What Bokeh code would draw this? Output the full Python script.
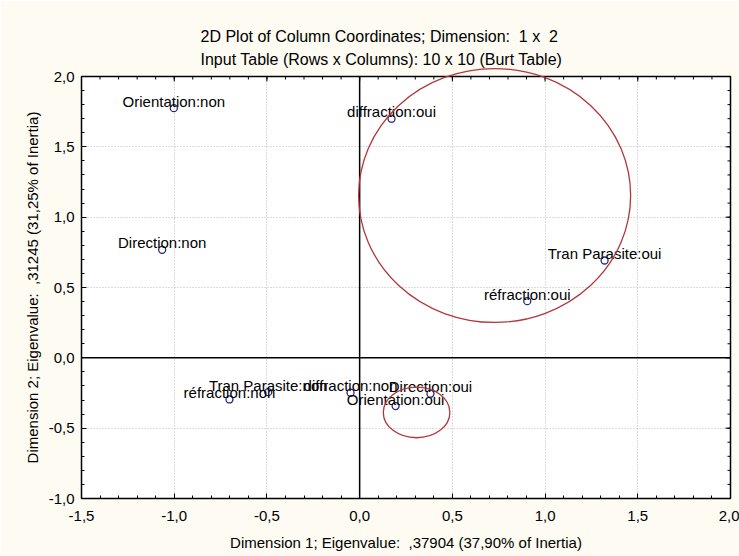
import math
from bokeh.plotting import figure
from bokeh.models import ColumnDataSource, FixedTicker, Range1d, Span, Title
from bokeh.core.properties import value
from bokeh.embed import file_html
from bokeh.resources import INLINE

# ---- data (column coordinates) ----
labels = ["Orientation:non", "Direction:non", "diffraction:oui", "Tran Parasite:oui",
          "réfraction:oui", "réfraction:non", "Tran Parasite:non", "diffraction:non",
          "Orientation:oui", "Direction:oui"]
dim1 = [-1.002, -1.065, 0.172, 1.321, 0.904, -0.702, -0.493, -0.049, 0.194, 0.382]
dim2 = [1.775, 0.768, 1.700, 0.692, 0.403, -0.296, -0.244, -0.248, -0.343, -0.255]

# highlighted groups (ellipses drawn by hand on the chart)
ell_x = [0.728, 0.307]
ell_y = [1.154, -0.388]
ell_w = [1.467, 0.359]
ell_h = [1.805, 0.360]

x_ticks = [-1.5, -1.0, -0.5, 0.0, 0.5, 1.0, 1.5, 2.0]
x_tick_labels = ["-1,5", "-1,0", "-0,5", "0,0", "0,5", "1,0", "1,5", "2,0"]
y_ticks = [-1.0, -0.5, 0.0, 0.5, 1.0, 1.5, 2.0]
y_tick_labels = ["-1,0", "-0,5", "0,0", "0,5", "1,0", "1,5", "2,0"]
x_minor = [round(-1.5 + 0.1 * i, 2) for i in range(36)]
y_minor = [round(-1.0 + 0.1 * i, 2) for i in range(31)]

title1 = "2D Plot of Column Coordinates; Dimension:\u00a0 1 x\u00a0 2"
title2 = "Input Table (Rows x Columns): 10 x 10 (Burt Table)"
x_label = "Dimension 1; Eigenvalue:\u00a0 ,37904 (37,90% of Inertia)"
y_label = "Dimension 2; Eigenvalue:\u00a0 ,31245 (31,25% of Inertia)"

FONT = "Liberation Sans"
FS = "15px"
TFS = "16px"
BG = "#FDFBF2"

x_range = Range1d(-1.5, 2.0)
y_range = Range1d(-1.0, 2.0)

p = figure(width=739, height=556, x_range=x_range, y_range=y_range,
           output_backend="svg", toolbar_location=None, title=None,
           min_border_left=81, min_border_right=9, min_border_top=76, min_border_bottom=58,
           border_fill_color=BG, background_fill_color="white",
           outline_line_color="black", outline_line_width=1.5)

def style_axis(ax, ticks, minor, tick_labels):
    ax.ticker = FixedTicker(ticks=ticks, minor_ticks=minor)
    ax.axis_line_color = None
    ax.major_tick_in = 5
    ax.major_tick_out = 0
    ax.minor_tick_in = 3
    ax.minor_tick_out = 0
    ax.major_tick_line_color = "black"
    ax.minor_tick_line_color = "black"
    ax.major_label_overrides = dict(zip(ticks, tick_labels))
    ax.major_label_text_font = FONT
    ax.major_label_text_font_size = FS
    ax.major_label_text_color = "black"
    ax.axis_label_text_font = FONT
    ax.axis_label_text_font_size = FS
    ax.axis_label_text_font_style = "normal"
    ax.axis_label_text_color = "black"

xa = p.xaxis[0]
ya = p.yaxis[0]
style_axis(xa, x_ticks, x_minor, x_tick_labels)
style_axis(ya, y_ticks, y_minor, y_tick_labels)
xa.axis_label = x_label
ya.axis_label = y_label
xa.major_label_standoff = 12
xa.axis_label_standoff = 10
ya.major_label_standoff = 7
ya.axis_label_standoff = 5

# tick marks on the top and right frame edges (inward half of a dash, clipped by the frame)
p.scatter(x=x_ticks, y=[y_range.end] * len(x_ticks), marker="dash", size=10, angle=math.pi / 2,
          line_color="black", line_width=1)
p.scatter(x=x_minor, y=[y_range.end] * len(x_minor), marker="dash", size=6, angle=math.pi / 2,
          line_color="black", line_width=1)
p.scatter(x=[x_range.end] * len(y_ticks), y=y_ticks, marker="dash", size=10,
          line_color="black", line_width=1)
p.scatter(x=[x_range.end] * len(y_minor), y=y_minor, marker="dash", size=6,
          line_color="black", line_width=1)

p.add_layout(Title(text=title1 + "\n" + title2, align="left", text_font=FONT, text_font_size=TFS,
                   text_font_style="normal", text_color="black", text_line_height=1.35,
                   standoff=17, offset=119), "above")

for g in (p.xgrid[0], p.ygrid[0]):
    g.grid_line_color = "#b8b8b8"
    g.grid_line_dash = "1 2"
    g.grid_line_width = 1

p.add_layout(Span(location=0, dimension="height", line_color="black", line_width=1.5))
p.add_layout(Span(location=0, dimension="width", line_color="black", line_width=1.5))

src = ColumnDataSource(dict(x=dim1, y=dim2, label=labels))
p.scatter("x", "y", source=src, marker="circle", size=7, fill_color=None,
          line_color="#26267a", line_width=1.3)
p.text("x", "y", text="label", source=src, text_font=value(FONT), text_font_size=value(FS),
       text_align="center", text_baseline="alphabetic", y_offset=-7, text_color="black")

p.ellipse(x=ell_x, y=ell_y, width=ell_w, height=ell_h, fill_color=None,
          line_color="#b3363a", line_width=1.3, level="overlay")

open("out.html", "w").write(file_html(p, INLINE))
